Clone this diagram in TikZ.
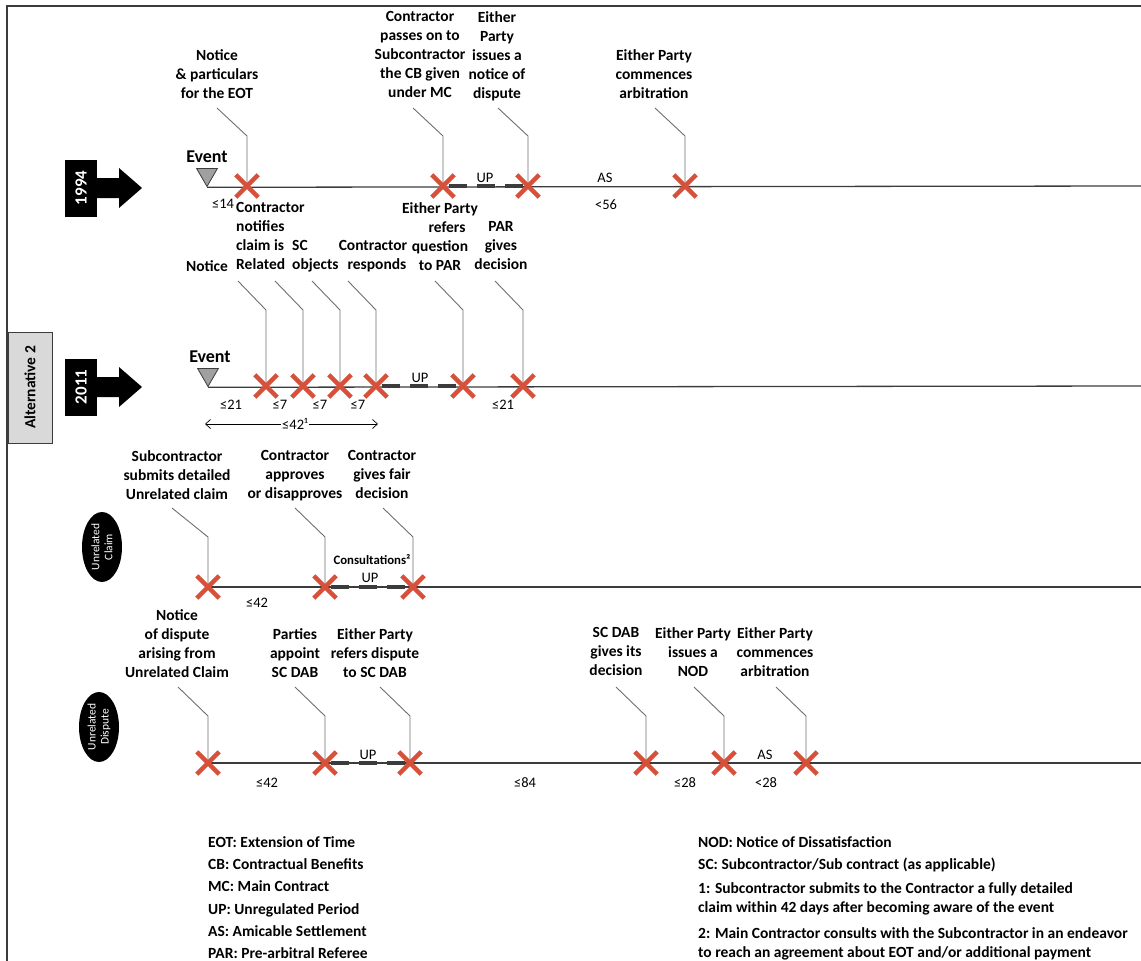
\documentclass[tikz,border=0pt]{standalone}
\usepackage{fontspec}
\setmainfont{Carlito}
\usetikzlibrary{shapes.geometric,shapes.misc,arrows.meta,backgrounds}

\definecolor{xred}{RGB}{214,80,58}
\definecolor{linegray}{RGB}{60,60,60}
\definecolor{leadgray}{RGB}{110,110,110}
\definecolor{boxgray}{RGB}{217,217,217}
\definecolor{trigray}{RGB}{160,160,160}

\tikzset{
  lab/.style={anchor=north, yshift=5.5pt, inner sep=0pt, align=center,
    font=\fontsize{15.5}{19}\selectfont\bfseries},
  labl/.style={lab, anchor=north west, align=left},
  labr/.style={lab, anchor=north east, align=right},
  num/.style={inner sep=0pt, font=\fontsize{14.5}{17}\selectfont},
  xmark/.style={cross out, draw=xred, line width=4.4pt, minimum size=18pt, inner sep=0pt},
  tl/.style={draw=linegray, line width=1.3pt},
  lead/.style={draw=leadgray, line width=0.9pt},
  updash/.style={draw=linegray, line width=3.5pt, dash pattern=on 18pt off 10pt},
  evtri/.style={regular polygon, regular polygon sides=3, shape border rotate=180,
    fill=trigray, draw=linegray, line width=0.8pt, minimum size=24pt, inner sep=0pt},
  evlab/.style={inner sep=0pt, font=\fontsize{18}{20}\selectfont\bfseries},
  yearbox/.style={fill=black, text=white, rotate=90, minimum width=57pt,
    minimum height=32pt, inner sep=0pt, font=\fontsize{17}{20}\selectfont\bfseries},
  ell/.style={ellipse, fill=black, text=white, rotate=90, minimum width=70pt,
    minimum height=40pt, inner sep=0pt, align=center, font=\fontsize{11.5}{13}\selectfont},
  altbox/.style={rectangle, fill=boxgray, draw=linegray, line width=1pt, rotate=90,
    minimum width=111pt, minimum height=44pt, inner sep=0pt,
    font=\fontsize{15.5}{19}\selectfont\bfseries},
  frame/.style={draw=linegray, line width=2pt},
  dim/.style={draw=black, line width=0.7pt,
    {Straight Barb[length=5pt,width=9pt]}-{Straight Barb[length=5pt,width=9pt]}}
}

\begin{document}
\begin{tikzpicture}[x=1pt,y=-1pt]
\useasboundingbox (0,0) rectangle (1141,961);

% outer frame (top and left edges)
\draw[frame] (7,961) -- (7,5.5) -- (1141,5.5);

% side tags
\node[altbox] (alt) at (30,387.5) {Alternative 2};
\node[yearbox] (y94) at (81,188) {1994};
\node[yearbox] (y11) at (81,387) {2011};
\begin{scope}[shift={(y94.center)}]
  \fill[black] (15,-10) -- (38,-10) -- (38,-20) -- (61,0) -- (38,20) -- (38,10) -- (15,10) -- cycle;
\end{scope}
\begin{scope}[shift={(y11.center)}]
  \fill[black] (15,-10) -- (38,-10) -- (38,-20) -- (61,0) -- (38,20) -- (38,10) -- (15,10) -- cycle;
\end{scope}
\node[ell] (uc) at (102,547) {Unrelated\\Claim};
\node[ell] (ud) at (99,727) {Unrelated\\Dispute};

% ---------------- 1994 ----------------
\node[evtri] (ev1) at (207,174.5) {};
\node[evlab] (evl1) at (207,157) {Event};
\coordinate (end1) at (1141,186);
\node[xmark] (a1) at (247,186) {};
\node[xmark] (a2) at (443,186) {};
\node[xmark] (a3) at (528,186) {};
\node[xmark] (a4) at (685,186) {};
\node[lab] (t1) at (217,55) {Notice\\\& particulars\\for the EOT};
\node[lab] (t2) at (420,17) {Contractor\\passes on to\\Subcontractor\\the CB given\\under MC};
\node[lab] (t3) at (497,17) {Either\\Party\\issues a\\notice of\\dispute};
\node[lab] (t4) at (654,55) {Either Party\\commences\\arbitration};
\node[num] (n11) at (223,204) {≤14};
\node[num] (n12) at (485,178) {UP};
\node[num] (n13) at (605,178) {AS};
\node[num] (n14) at (606,205) {<56};
\begin{scope}[on background layer]
  \draw[tl] (ev1.corner 1) -- (end1);
  \foreach \p in {a1,a2,a3,a4}
    \draw[lead] (\p.center) ++(-30,-78) -- ++(30,28) -- (\p.center);
  \draw[updash] ([xshift=6pt]a2.center) -- ([xshift=-5pt]a3.center);
\end{scope}

% ---------------- 2011 ----------------
\node[evtri] (ev2) at (208,374.5) {};
\node[evlab] (evl2) at (210,357) {Event};
\coordinate (end2) at (1141,386);
\node[xmark] (b1) at (266,386) {};
\node[xmark] (b2) at (303,386) {};
\node[xmark] (b3) at (340,386) {};
\node[xmark] (b4) at (376,386) {};
\node[xmark] (b5) at (463,386) {};
\node[xmark] (b6) at (523,386) {};
\node[lab] (s1) at (207,266) {Notice};
\node[labl] (s2) at (236,208) {Contractor\\notifies\\claim is\\Related};
\node[labl] (s3) at (292,246) {SC\\objects};
\node[lab] (s4) at (373,246) {Contractor\\\hspace*{8pt}responds};
\node[lab] (s5) at (440,208) {Either Party\\\hspace*{14pt}refers\\question\\to PAR};
\node[lab] (s6) at (501,227) {PAR\\gives\\decision};
\node[num] (n21) at (231,405) {≤21};
\node[num] (n22) at (280,405) {≤7};
\node[num] (n23) at (320,405) {≤7};
\node[num] (n24) at (358,405) {≤7};
\node[num] (n25) at (503,405) {≤21};
\node[num] (n26) at (420,378) {UP};
\coordinate (g1) at (205,424);
\coordinate (g2) at (378,424);
\draw[dim] (g1) -- node[num, pos=0.52, fill=white, inner sep=1pt] (n27) {≤42¹} (g2);
\begin{scope}[on background layer]
  \draw[tl] (ev2.corner 1) -- (end2);
  \foreach \p in {b1,b2,b3,b4,b5,b6}
    \draw[lead] (\p.center) ++(-28,-105) -- ++(28,29) -- (\p.center);
  \draw[updash] ([xshift=6pt]b4.center) -- ([xshift=-5pt]b5.center);
\end{scope}

% ---------------- Unrelated claim ----------------
\coordinate (end3) at (1141,587);
\node[xmark] (c1) at (208,587) {};
\node[xmark] (c2) at (325,587) {};
\node[xmark] (c3) at (413,587) {};
\node[lab] (u1) at (177,456) {Subcontractor\\submits detailed\\Unrelated claim};
\node[lab] (u2) at (295,456) {Contractor\\approves\\or disapproves};
\node[lab] (u3) at (382,456) {Contractor\\gives fair\\decision};
\node[inner sep=0pt, font=\fontsize{12.8}{15}\selectfont\bfseries] (n31) at (372,560) {Consultations²};
\node[num] (n32) at (370,578) {UP};
\node[num] (n33) at (257,603) {≤42};
\begin{scope}[on background layer]
  \draw[tl] (c1.center) -- (end3);
  \draw[lead] (c1.center) ++(-36,-79) -- ++(36,29) -- (c1.center);
  \draw[lead] (c2.center) ++(-30,-79) -- ++(30,29) -- (c2.center);
  \draw[lead] (c3.center) ++(-30,-79) -- ++(30,29) -- (c3.center);
  \draw[updash] ([xshift=6pt]c2.center) -- ([xshift=-5pt]c3.center);
\end{scope}

% ---------------- Unrelated dispute ----------------
\coordinate (end4) at (1141,763);
\node[xmark] (d1) at (208,763) {};
\node[xmark] (d2) at (325,763) {};
\node[xmark] (d3) at (410,763) {};
\node[xmark] (d4) at (646,763) {};
\node[xmark] (d5) at (724,763) {};
\node[xmark] (d6) at (806,763) {};
\node[lab] (v1) at (177,615) {Notice\\of dispute\\arising from\\Unrelated Claim};
\node[lab] (v2) at (295,634) {Parties\\appoint\\SC DAB};
\node[lab] (v3) at (375,634) {Either Party\\refers dispute\\to SC DAB};
\node[lab] (v4) at (616,633) {SC DAB\\gives its\\decision};
\node[lab] (v5) at (693,633) {Either Party\\issues a\\NOD};
\node[lab] (v6) at (775,633) {Either Party\\commences\\arbitration};
\node[num] (n41) at (368,755) {UP};
\node[num] (n42) at (765,755) {AS};
\node[num] (n43) at (267,783) {≤42};
\node[num] (n44) at (525,783) {≤84};
\node[num] (n45) at (685,783) {≤28};
\node[num] (n46) at (766,783) {<28};
\begin{scope}[on background layer]
  \draw[tl] (d1.center) -- (end4);
  \foreach \p in {d1,d2,d3,d4,d5,d6}
    \draw[lead] (\p.center) ++(-30,-76) -- ++(30,29) -- (\p.center);
  \draw[updash] ([xshift=6pt]d2.center) -- ([xshift=-5pt]d3.center);
\end{scope}

% ---------------- abbreviations and notes ----------------
\node[labl, font=\fontsize{15.5}{22.2}\selectfont\bfseries] (leg1) at (208,842)
  {EOT: Extension of Time\\CB: Contractual Benefits\\MC: Main Contract\\UP: Unregulated Period\\AS: Amicable Settlement\\PAR: Pre-arbitral Referee};
\node[labl] (leg2) at (698,842)
  {NOD: Notice of Dissatisfaction\\[3pt]SC: Subcontractor/Sub contract (as applicable)\\[5pt]1: Subcontractor submits to the Contractor a fully detailed\\claim within 42 days after becoming aware of the event\\[7pt]2: Main Contractor consults with the Subcontractor in an endeavor\\to reach an agreement about EOT and/or additional payment};
\end{tikzpicture}
\end{document}
